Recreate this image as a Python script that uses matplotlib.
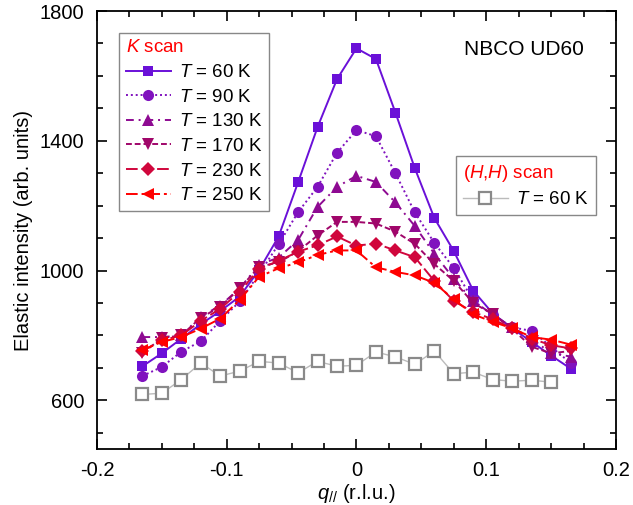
import matplotlib
matplotlib.use('Agg')
import matplotlib.pyplot as plt
from matplotlib.ticker import MultipleLocator

plt.rcParams['font.family'] = ['Liberation Sans', 'DejaVu Sans']
plt.rcParams['mathtext.fontset'] = 'custom'
plt.rcParams['mathtext.rm'] = 'Liberation Sans'
plt.rcParams['mathtext.it'] = 'Liberation Sans:italic'

# K scan data
q_k = [-0.165, -0.15, -0.135, -0.12, -0.105, -0.09, -0.075, -0.06, -0.045, -0.03, -0.015, 0.0,
       0.015, 0.03, 0.045, 0.06, 0.075, 0.09, 0.105, 0.12, 0.135, 0.15, 0.165]
I_60 = [705, 745, 790, 835, 875, 920, 1002, 1105, 1272, 1442, 1590, 1685,
        1652, 1487, 1315, 1162, 1060, 938, 868, 822, 780, 738, 698]
I_90 = [675, 703, 750, 782, 845, 905, 990, 1081, 1180, 1258, 1363, 1433,
        1414, 1300, 1179, 1085, 1008, 908, 862, 825, 814, 765, 715]
I_130 = [795, 795, 800, 858, 892, 945, 1018, 1040, 1094, 1196, 1258, 1292,
         1273, 1210, 1137, 1052, 975, 905, 865, 825, 790, 745, 735]
I_170 = [745, 792, 800, 855, 888, 945, 1012, 1025, 1060, 1108, 1150, 1150,
         1145, 1120, 1082, 1020, 968, 900, 866, 820, 765, 745, 752]
I_230 = [752, 785, 800, 845, 882, 935, 1005, 1030, 1058, 1078, 1105, 1077,
         1083, 1062, 1041, 968, 906, 872, 850, 822, 790, 770, 760]
I_250 = [755, 780, 795, 821, 852, 909, 981, 1007, 1025, 1048, 1062, 1062,
         1010, 996, 985, 962, 911, 865, 842, 822, 795, 787, 772]

# (H,H) scan data
q_hh = [-0.165, -0.15, -0.135, -0.12, -0.105, -0.09, -0.075, -0.06, -0.045, -0.03, -0.015, 0.0,
        0.015, 0.03, 0.045, 0.06, 0.075, 0.09, 0.105, 0.12, 0.135, 0.15]
I_hh = [618, 622, 664, 715, 675, 690, 720, 715, 685, 720, 705, 708,
        749, 734, 711, 752, 682, 687, 664, 659, 662, 656]

temps = ['60', '90', '130', '170', '230', '250']
series = [I_60, I_90, I_130, I_170, I_230, I_250]
colors = ['#6A10D8', '#8012BE', '#8E0A92', '#A0066A', '#D0063C', '#FF0000']
markers = ['s', 'o', '^', 'v', 'D', '<']
msizes = [7, 8, 8.5, 8.5, 7, 8.5]
styles = ['-', (0, (1, 1.5)), (0, (4, 2.5, 1, 2.5)), (0, (3, 1.5)), (0, (6, 2)), (0, (6, 2, 1.5, 2))]

fig = plt.figure(figsize=(6.33, 5.05), dpi=100)
ax = fig.add_axes([0.1532, 0.1109, 0.8199, 0.8673])

handles_k = []
for T, y, c, m, ms, ls in zip(temps, series, colors, markers, msizes, styles):
    h, = ax.plot(q_k, y, color=c, marker=m, markersize=ms, linestyle=ls,
                 linewidth=1.4, markeredgewidth=0, label=r'$T$ = %s K' % T)
    handles_k.append(h)

h_hh, = ax.plot(q_hh, I_hh, color='#BBBBBB', linewidth=1.0, marker='s', markersize=8.5,
                markerfacecolor='white', markeredgecolor='#8A8A8A', markeredgewidth=1.6,
                label=r'$T$ = 60 K')

ax.set_xlim(-0.2, 0.2)
ax.set_ylim(450, 1800)
ax.set_xticks([-0.2, -0.1, 0, 0.1, 0.2])
ax.set_xticklabels(['-0.2', '-0.1', '0', '0.1', '0.2'])
ax.xaxis.set_minor_locator(MultipleLocator(0.025))
ax.set_yticks([600, 1000, 1400, 1800])
ax.yaxis.set_minor_locator(MultipleLocator(100))
ax.tick_params(which='both', direction='in', top=True, right=True, labelsize=14.5, width=1.2)
ax.tick_params(which='major', length=7, pad=9)
ax.tick_params(which='minor', length=4)
for sp in ax.spines.values():
    sp.set_linewidth(1.3)

ax.set_xlabel(r'$q_{//}$ (r.l.u.)', fontsize=14.5, labelpad=1)
ax.set_ylabel('Elastic intensity (arb. units)', fontsize=14.5, labelpad=5)

leg_kw = dict(loc='upper left', borderaxespad=0, fontsize=13.5, title_fontsize=13.5,
              alignment='left', fancybox=False, framealpha=1, edgecolor='#888888',
              handlelength=2.4, handletextpad=0.45, labelspacing=0.4, borderpad=0.35)

leg1 = ax.legend(handles=handles_k, bbox_to_anchor=(0.0424, 0.950),
                 title=r'$K$ scan', **leg_kw)
leg1.get_title().set_color('red')
leg1.get_frame().set_linewidth(1.0)
ax.add_artist(leg1)

leg2 = ax.legend(handles=[h_hh], bbox_to_anchor=(0.692, 0.669),
                 title=r'($H$,$H$) scan', **leg_kw)
leg2.get_title().set_color('red')
leg2.get_frame().set_linewidth(1.0)

ax.text(0.823, 0.913, 'NBCO UD60', transform=ax.transAxes, fontsize=15,
        ha='center', va='center')

fig.savefig('out.png', dpi=100)
